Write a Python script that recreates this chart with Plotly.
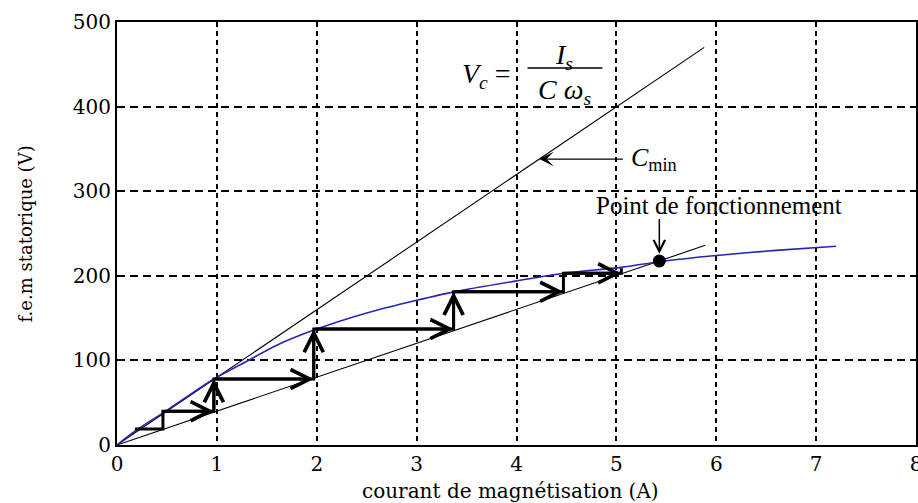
import plotly.graph_objects as go

# ---- data ----
# magnetisation curve (blue)
mag_x = [0, 0.2, 0.5, 0.97, 1.3, 1.6, 2.0, 2.5, 3.0, 3.37, 4.0, 4.47, 5.05, 5.45, 6.0, 6.6, 7.2]
mag_y = [0, 18, 41, 78, 99, 118, 137, 156, 171, 181, 194, 203, 210, 217, 224, 230, 235]

# capacitor characteristic lines
cmin_x = [0, 5.88]
cmin_y = [0, 470]
cap_x = [0, 5.89]
cap_y = [0, 236]

# self-excitation staircase
stair_x = [0.18, 0.46, 0.46, 0.97, 0.97, 1.97, 1.97, 3.37, 3.37, 4.47, 4.47, 5.05, 5.05]
stair_y = [19, 19, 40, 40, 78, 78, 137, 137, 181, 181, 203, 203, 209]
stair_arrow = [0, 0, 1, 1, 1, 1, 1, 1, 1, 0, 1, 0]

# operating point
op_x = [5.43]
op_y = [217.5]

x_ticks = [0, 1, 2, 3, 4, 5, 6, 7, 8]
y_ticks = [0, 100, 200, 300, 400, 500]

x_title = "courant de magnétisation (A)"
y_title = "f.e.m statorique (V)"
op_label = "Point de fonctionnement"

SERIF = "DejaVu Serif"
TIMES = "Liberation Serif"

fig = go.Figure()

fig.add_trace(go.Scatter(x=cmin_x, y=cmin_y, mode="lines",
                         line=dict(color="black", width=1.1), hoverinfo="skip"))
fig.add_trace(go.Scatter(x=cap_x, y=cap_y, mode="lines",
                         line=dict(color="black", width=1.1), hoverinfo="skip"))
fig.add_trace(go.Scatter(x=mag_x, y=mag_y, mode="lines", line_shape="spline",
                         line=dict(color="#2626b0", width=1.6, smoothing=0.8), hoverinfo="skip"))
fig.add_trace(go.Scatter(x=stair_x, y=stair_y, mode="lines",
                         line=dict(color="black", width=3), hoverinfo="skip"))
fig.add_trace(go.Scatter(x=op_x, y=op_y, mode="markers",
                         marker=dict(color="black", size=13), hoverinfo="skip"))

annotations = []
for i, flag in enumerate(stair_arrow):
    if flag:
        annotations.append(dict(
            x=stair_x[i + 1], y=stair_y[i + 1], ax=stair_x[i], ay=stair_y[i],
            xref="x", yref="y", axref="x", ayref="y", text="",
            showarrow=True, arrowhead=5, arrowsize=1.25, arrowwidth=3,
            arrowcolor="black", standoff=0, startstandoff=0))

# C_min arrow and label
cmin_label_y = 338
annotations.append(dict(x=cmin_label_y / (cmin_y[1] / cmin_x[1]), y=cmin_label_y,
                        ax=5.08, ay=cmin_label_y, xref="x", yref="y", axref="x", ayref="y",
                        text="", showarrow=True, arrowhead=3, arrowsize=2.0,
                        arrowwidth=1.2, arrowcolor="black", standoff=0))
annotations.append(dict(x=5.13, y=cmin_label_y, xref="x", yref="y", xanchor="left",
                        text="<i>C</i><sub>min</sub>", showarrow=False,
                        font=dict(family=TIMES, size=26, color="black")))

# operating point arrow and label
annotations.append(dict(x=op_x[0], y=226, ax=op_x[0], ay=269, xref="x", yref="y",
                        axref="x", ayref="y", text="", showarrow=True, arrowhead=5,
                        arrowsize=1.5, arrowwidth=1.5, arrowcolor="black", standoff=0))
annotations.append(dict(x=6.03, y=283, xref="x", yref="y", text=op_label,
                        showarrow=False, font=dict(family=TIMES, size=25, color="black")))

# equation Vc = Is / (C ws)
annotations.append(dict(x=3.70, y=437, xref="x", yref="y", text="<i>V<sub>c</sub></i> =",
                        showarrow=False, font=dict(family=TIMES, size=28, color="black")))
annotations.append(dict(x=4.48, y=459, xref="x", yref="y", text="<i>I<sub>s</sub></i>",
                        showarrow=False, font=dict(family=TIMES, size=28, color="black")))
annotations.append(dict(x=4.48, y=418, xref="x", yref="y", text="<i>C ω<sub>s</sub></i>",
                        showarrow=False, font=dict(family=TIMES, size=28, color="black")))

# axis titles
annotations.append(dict(x=0.493, y=-0.108, xref="paper", yref="paper", text=x_title,
                        showarrow=False, xanchor="center", yanchor="middle",
                        font=dict(family=SERIF, size=20, color="black")))
annotations.append(dict(x=-0.114, y=0.5, xref="paper", yref="paper", text=y_title,
                        showarrow=False, textangle=-90, xanchor="center", yanchor="middle",
                        font=dict(family=SERIF, size=18, color="black")))

shapes = [dict(type="line", xref="x", yref="y", x0=4.11, x1=4.86, y0=445.6, y1=445.6,
               line=dict(color="black", width=1.3))]

fig.update_layout(
    width=918, height=503,
    margin=dict(l=117, r=2, t=22, b=58),
    paper_bgcolor="white", plot_bgcolor="white",
    showlegend=False,
    annotations=annotations, shapes=shapes,
    font=dict(family=SERIF, size=18, color="black"),
)
fig.update_xaxes(range=[0, 8], tickvals=x_ticks, ticktext=[str(v) for v in x_ticks],
                 showgrid=True, gridcolor="black", gridwidth=2, griddash="5px,4px",
                 showline=True, linecolor="black", linewidth=2, mirror=True,
                 zeroline=False, ticks="", automargin=False, ticklabeloverflow="allow",
                 tickfont=dict(family=SERIF, size=20, color="black"))
fig.update_yaxes(range=[0, 500], tickvals=y_ticks, ticktext=[str(v) for v in y_ticks],
                 showgrid=True, gridcolor="black", gridwidth=1.5, griddash="8px,5px",
                 showline=True, linecolor="black", linewidth=2, mirror=True,
                 zeroline=False, ticks="", automargin=False,
                 tickfont=dict(family=SERIF, size=20, color="black"))

fig.write_html("out.html", config={"displayModeBar": False},
               post_script="document.body.style.margin='0';document.body.style.overflow='hidden';")
